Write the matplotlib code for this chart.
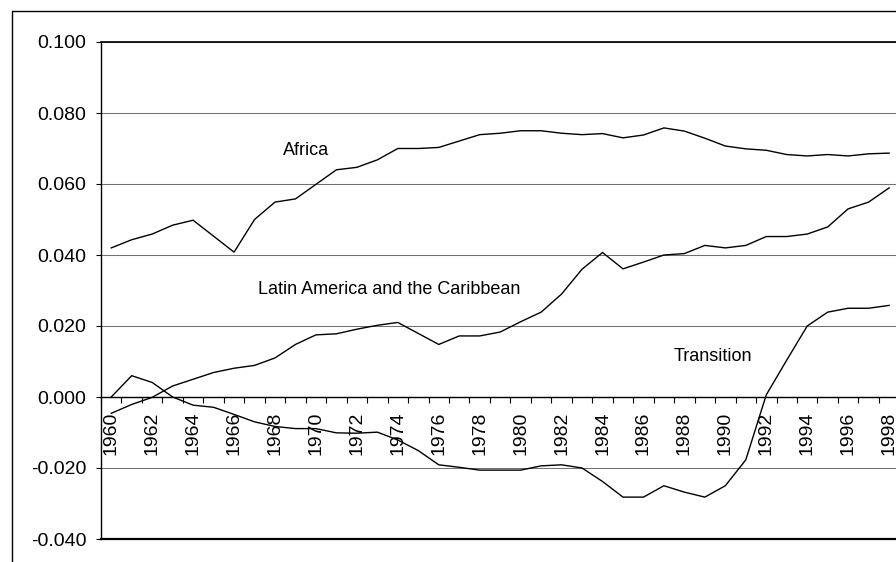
import matplotlib
matplotlib.use("Agg")
import matplotlib.pyplot as plt
from matplotlib.patches import Rectangle
from matplotlib.ticker import FixedLocator, FixedFormatter

plt.rcParams['font.family'] = ['Liberation Sans', 'DejaVu Sans']

years = list(range(1960, 1999))

africa = [0.0420, 0.0443, 0.0459, 0.0484, 0.0498, 0.0453, 0.0408, 0.0500, 0.0549, 0.0558,
          0.0599, 0.0640, 0.0647, 0.0668, 0.0700, 0.0700, 0.0703, 0.0721, 0.0739, 0.0743,
          0.0750, 0.0750, 0.0743, 0.0739, 0.0742, 0.0730, 0.0738, 0.0758, 0.0749, 0.0729,
          0.0707, 0.0699, 0.0695, 0.0683, 0.0679, 0.0683, 0.0679, 0.0685, 0.0687]

latin = [-0.0046, -0.0021, -0.0001, 0.0031, 0.0050, 0.0069, 0.0081, 0.0089, 0.0110, 0.0148,
         0.0175, 0.0178, 0.0191, 0.0202, 0.0210, 0.0179, 0.0148, 0.0172, 0.0172, 0.0183,
         0.0212, 0.0239, 0.0290, 0.0360, 0.0407, 0.0361, 0.0380, 0.0400, 0.0404, 0.0427,
         0.0420, 0.0427, 0.0452, 0.0452, 0.0459, 0.0479, 0.0530, 0.0549, 0.0589]

transition = [0.0000, 0.0060, 0.0041, 0.0000, -0.0023, -0.0029, -0.0049, -0.0070, -0.0083, -0.0089,
              -0.0089, -0.0101, -0.0102, -0.0099, -0.0121, -0.0151, -0.0191, -0.0198, -0.0206, -0.0206,
              -0.0206, -0.0194, -0.0191, -0.0200, -0.0238, -0.0282, -0.0282, -0.0250, -0.0268, -0.0282,
              -0.0250, -0.0177, 0.0006, 0.0104, 0.0200, 0.0239, 0.0250, 0.0250, 0.0258]

yticks = [-0.04, -0.02, 0.0, 0.02, 0.04, 0.06, 0.08, 0.10]
ytick_labels = ["-0.040", "-0.020", "0.000", "0.020", "0.040", "0.060", "0.080", "0.100"]

labels = [("Africa", 8.38, 0.0682), ("Latin America and the Caribbean", 7.19, 0.0290),
          ("Transition", 27.46, 0.0101)]

W, H = 896, 562
fig = plt.figure(figsize=(W / 100, H / 100), dpi=100)
left_px, top_px, bottom_px = 101, 42, 539
cat_w = 20.47
ax = fig.add_axes([left_px / W, (H - bottom_px) / H, 39 * cat_w / W, (bottom_px - top_px) / H])

x = list(range(len(years)))
for s in (africa, latin, transition):
    ax.plot(x, s, color='black', lw=1.0, solid_joinstyle='miter')

ax.set_xlim(-0.5, len(years) - 0.5)
ax.set_ylim(-0.04, 0.10)

# gridlines
ax.set_yticks(yticks)
ax.set_yticklabels(ytick_labels, fontsize=14)
ax.yaxis.grid(True, color='#707070', lw=0.75)
ax.set_axisbelow(True)
ax.tick_params(axis='y', direction='out', length=3.6, width=0.8, pad=7, colors='black')

# x axis at zero
ax.spines['bottom'].set_position(('data', 0))
ax.spines['bottom'].set_linewidth(1.0)
ax.spines['left'].set_linewidth(1.0)
ax.spines['top'].set_linewidth(1.2)
ax.spines['right'].set_visible(False)
ax.axhline(-0.04, color='black', lw=1.6, clip_on=False)

ax.xaxis.set_major_locator(FixedLocator(x[::2]))
ax.xaxis.set_major_formatter(FixedFormatter([str(y) for y in years[::2]]))
ax.xaxis.set_minor_locator(FixedLocator([i + 0.5 for i in range(-1, len(years))]))
ax.tick_params(axis='x', which='major', length=0, pad=10.5, labelsize=14, labelrotation=90)
ax.tick_params(axis='x', which='minor', direction='out', length=4, width=0.8)
for lbl in ax.get_xticklabels():
    lbl.set_verticalalignment('top')

for txt, tx, ty in labels:
    ax.text(tx, ty, txt, fontsize=13, ha='left', va='baseline')

# outer chart border
fig.add_artist(Rectangle((12.3 / W, -0.1), 1.0, (H - 10.7) / H + 0.1, transform=fig.transFigure,
                         fill=False, edgecolor='black', lw=1.0))

fig.savefig("out.png", dpi=100)
